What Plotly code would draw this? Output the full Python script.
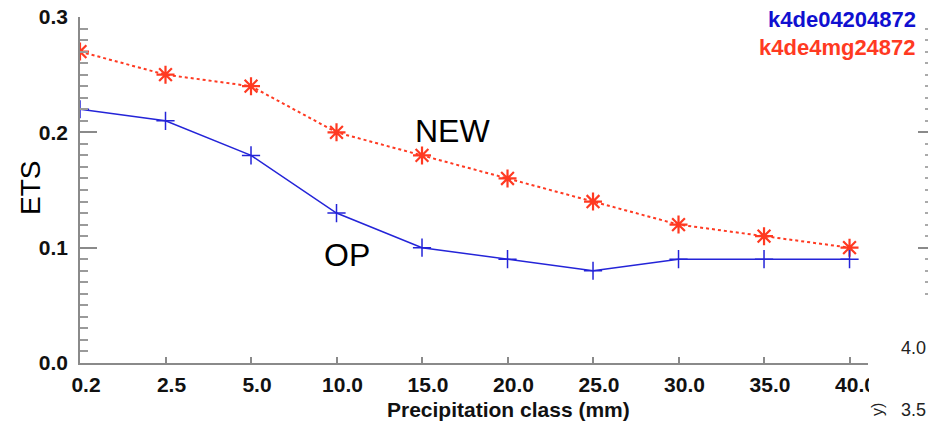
import plotly.graph_objects as go

categories = ["0.2", "2.5", "5.0", "10.0", "15.0", "20.0", "25.0", "30.0", "35.0", "40.0"]
ets_op = [0.22, 0.21, 0.18, 0.13, 0.10, 0.09, 0.08, 0.09, 0.09, 0.09]
ets_new = [0.27, 0.25, 0.24, 0.20, 0.18, 0.16, 0.14, 0.12, 0.11, 0.10]
legend_names = ["k4de04204872", "k4de4mg24872"]
y_ticks = [0.0, 0.1, 0.2, 0.3]
y_ticktext = ["0.0", "0.1", "0.2", "0.3"]

BLUE = "#2424d8"
RED = "#ff3a22"
GRAY = "#8a8a8a"
FONT = "Liberation Sans, Arial, Helvetica, sans-serif"

W, H = 928, 422
L, R, T, B = 80, 0, 17, 59
plot_w = W - L - R
plot_h = H - T - B
x_end = 868

def px(xp):
    return (xp - L) / plot_w

def py(yp):
    return (H - B - yp) / plot_h

# minor ticks of the cropped neighbouring panel's axis (from 0.06 upwards)
right_minor = [round(k * 0.01, 2) for k in range(6, 30) if k % 10 != 0]

fig = go.Figure()
fig.add_trace(go.Scatter(
    x=categories, y=ets_new, mode="lines+markers", name=legend_names[1],
    line=dict(color=RED, width=2, dash="dot"),
    marker=dict(symbol="asterisk-open", size=15, line=dict(color=RED, width=2.2)),
))
fig.add_trace(go.Scatter(
    x=categories, y=ets_op, mode="lines+markers", name=legend_names[0],
    line=dict(color=BLUE, width=1.5),
    marker=dict(symbol="cross-thin-open", size=13, line=dict(color=BLUE, width=1.5)),
))
fig.add_trace(go.Scatter(x=[categories[0]], y=[None], yaxis="y2", showlegend=False,
                         hoverinfo="skip"))

fig.update_layout(
    width=W, height=H,
    margin=dict(l=L, r=R, t=T, b=B, pad=0),
    paper_bgcolor="white", plot_bgcolor="white",
    showlegend=False,
    font=dict(family=FONT, color="black"),
    xaxis=dict(
        type="category", domain=[0, px(x_end)], range=[0, 9.216],
        showgrid=False, zeroline=False, automargin=False,
        showline=True, linecolor=GRAY, linewidth=1.5,
        ticks="inside", ticklen=6, tickcolor=GRAY, tickwidth=1.5,
        tickfont=dict(size=21, weight="bold", color="#111"),
        ticklabelstandoff=2, ticklabelshift=6,
    ),
    yaxis=dict(
        range=[0, 0.3], showgrid=False, zeroline=False, automargin=False,
        showline=True, linecolor=GRAY, linewidth=1.5,
        tickvals=y_ticks, ticktext=y_ticktext,
        ticks="inside", ticklen=17, tickcolor=GRAY, tickwidth=1.5,
        tickfont=dict(size=21, weight="bold", color="#111"),
        ticklabelstandoff=6,
        minor=dict(ticks="inside", ticklen=8, tickcolor="#9a9a9a", tickwidth=1.5,
                   dtick=0.01, tick0=0),
    ),
    yaxis2=dict(
        overlaying="y", anchor="free", position=1.0, side="right", automargin=False,
        range=[0, 0.3],
        showgrid=False, zeroline=False, showline=False,
        tickvals=[0.1, 0.2, 0.3], showticklabels=False,
        ticks="inside", ticklen=10, tickcolor=GRAY, tickwidth=1.5,
        minor=dict(ticks="inside", ticklen=3, tickcolor="#aaaaaa", tickwidth=1.5,
                   tickvals=right_minor),
    ),
    # the reference is cropped just right of the x axis end, cutting the last label
    shapes=[dict(type="rect", xref="paper", yref="paper", layer="above",
                 x0=px(x_end + 1), x1=px(888), y0=py(398), y1=py(368),
                 fillcolor="white", line=dict(width=0))],
)

annotations = [
    dict(text="ETS", x=px(31), y=py(188), textangle=-90,
         font=dict(size=28, color="black")),
    dict(text="Precipitation class (mm)", x=px(508), y=py(409),
         font=dict(size=21, weight="bold", color="#111")),
    dict(text="NEW", x=px(452), y=py(131), font=dict(size=32, color="black")),
    dict(text="OP", x=px(347), y=py(255), font=dict(size=32, color="black")),
    dict(text=legend_names[0], x=px(918), y=py(19), xanchor="right",
         font=dict(size=22, weight="bold", color="#1010d0")),
    dict(text=legend_names[1], x=px(918), y=py(47), xanchor="right",
         font=dict(size=22, weight="bold", color=RED)),
    dict(text="4.0", x=px(913), y=py(348), font=dict(size=18, color="#222")),
    dict(text="3.5", x=px(913), y=py(410), font=dict(size=18, color="#222")),
    dict(text="y)", x=px(877), y=py(410), textangle=-90,
         font=dict(size=16, color="#222")),
]
for a in annotations:
    a.setdefault("xanchor", "center")
    a.update(xref="paper", yref="paper", showarrow=False, yanchor="middle")
fig.update_layout(annotations=annotations)

fig.write_html("out.html")
